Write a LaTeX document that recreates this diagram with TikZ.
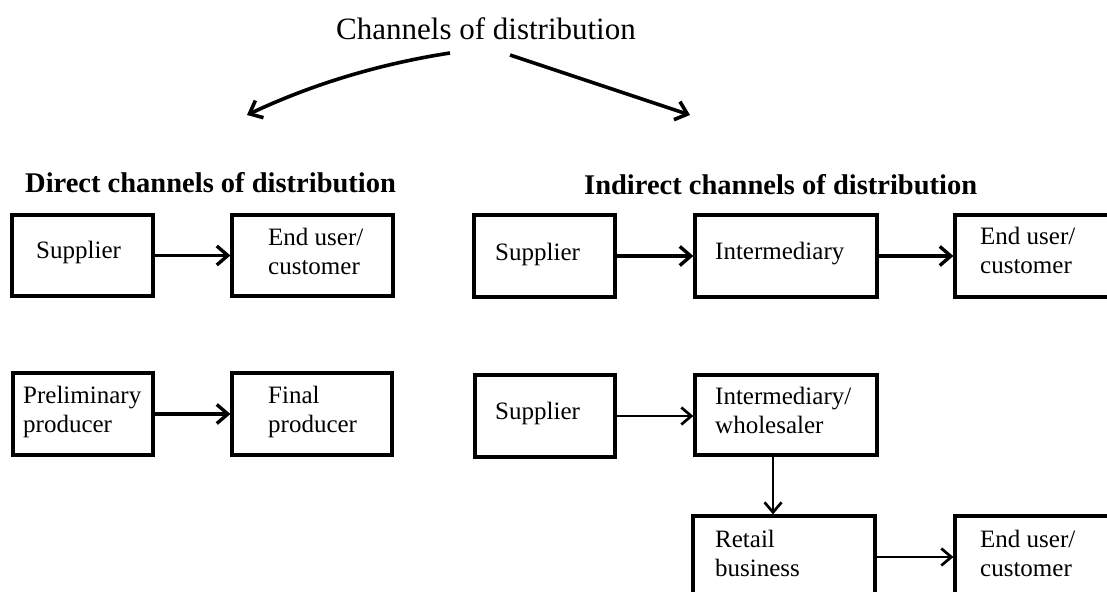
\documentclass[tikz,border=0pt]{standalone}
\usepackage{fontspec}
\setmainfont{Liberation Serif}
\usetikzlibrary{arrows.meta,calc,fit}
% two left-aligned lines whose baseline is the first line
\newcommand{\twoline}[2]{\begin{tabular}[t]{@{}l@{}}#1\\#2\end{tabular}}
\begin{document}
\begin{tikzpicture}[x=1pt,y=-1pt,
  box/.style={draw, line width=3.2pt, inner sep=0pt},
  txt/.style={inner sep=0pt, anchor=base west, font=\fontsize{25}{29}\selectfont},
  heading/.style={inner sep=0pt, anchor=base west, font=\bfseries\fontsize{28.5}{34}\selectfont},
  link/.style={line width=3.4pt, -{Straight Barb[length=11pt,width=19pt]}},
  thinlink/.style={line width=2.7pt, -{Straight Barb[length=10pt,width=17pt]}},
  branch/.style={line width=3.6pt, -{Straight Barb[length=11pt,width=19pt]}}]
\useasboundingbox (0,0) rectangle (1107,591);
\clip (0,0) rectangle (1107,591);

% title and the two branches
\node[inner sep=0pt, anchor=base, font=\fontsize{31}{36}\selectfont] (title) at (486,40) {Channels of distribution};
\coordinate (ls) at (450,53);
\coordinate (le) at (247,115);
\coordinate (rs) at (510,55);
\coordinate (re) at (690,115);
\draw[branch] (ls) .. controls (379,64) and (311.5,84.5) .. (le);
\draw[branch] (rs) -- (re);

% headings
\node[heading] (hdir) at (25,192) {Direct channels of distribution};
\node[heading] (hind) at (584,194) {Indirect channels of distribution};

% direct channels
\node[box, fit={(12,215) (153,296)}] (dsup) {};
\node[txt] (dsupt) at (36,258) {Supplier};
\node[box, fit={(232,215) (393,296)}] (dend) {};
\node[txt] (dendt) at (268,245) {\twoline{End user/}{customer}};
\node[box, fit={(13,373) (153,455)}] (dpre) {};
\node[txt] (dpret) at (23,403) {\twoline{Preliminary}{producer}};
\node[box, fit={(232,373) (392,455)}] (dfin) {};
\node[txt] (dfint) at (268,403) {\twoline{Final}{producer}};

\draw[link] (dsup) -- (dend);
\draw[link] (dpre) -- (dfin);

% indirect channels, first chain
\node[box, fit={(474,215) (615,297)}] (isupa) {};
\node[txt] (isupat) at (495,260) {Supplier};
\node[box, fit={(695,215) (877,297)}] (iinta) {};
\node[txt] (iintat) at (715,259) {Intermediary};
\node[box, fit={(955,215) (1125,297)}] (ienda) {};
\node[txt] (iendat) at (980,244) {\twoline{End user/}{customer}};

\draw[link] (isupa) -- (iinta);
\draw[link] (iinta) -- (ienda);

% indirect channels, second chain
\node[box, fit={(475,375) (615,457)}] (isupb) {};
\node[txt] (isupbt) at (495,419) {Supplier};
\node[box, fit={(695,375) (877,455)}] (iintb) {};
\node[txt] (iintbt) at (715,404) {\twoline{Intermediary/}{wholesaler}};
\node[box, fit={(693,516) (875,598)}] (iret) {};
\node[txt] (irett) at (715,547) {\twoline{Retail}{business}};
\node[box, fit={(955,516) (1125,598)}] (iendb) {};
\node[txt] (iendbt) at (980,547) {\twoline{End user/}{customer}};

\draw[thinlink] (isupb.east) -- (isupb.east -| iintb.west);
\coordinate (vtop) at ($(iintb.south west)!0.43!(iintb.south east)$);
\draw[thinlink] (vtop) -- (vtop |- iret.north);
\draw[thinlink] (iret) -- (iendb);
\end{tikzpicture}
\end{document}
